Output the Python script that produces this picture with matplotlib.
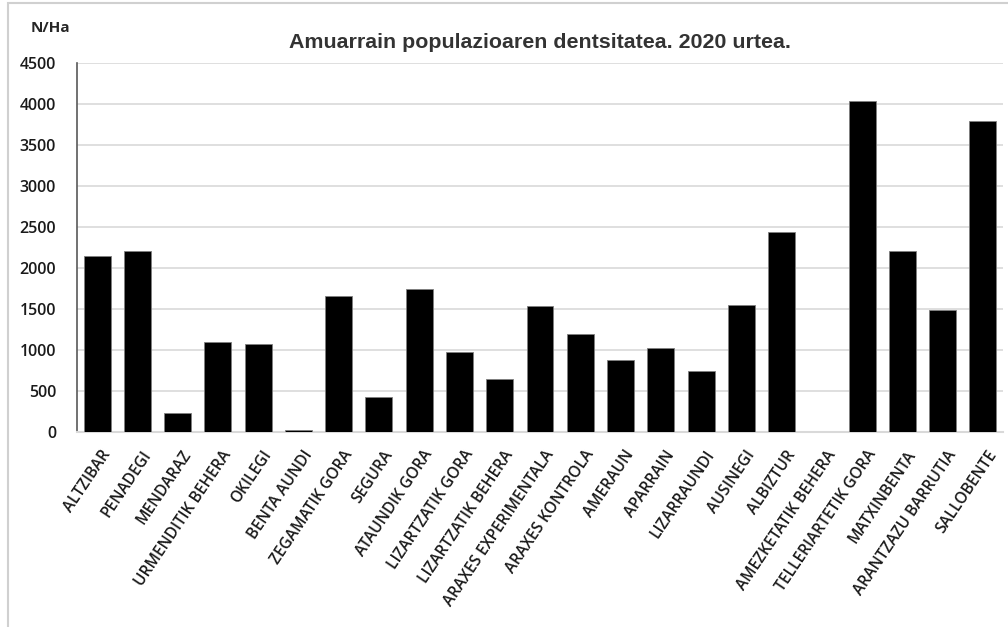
import matplotlib
matplotlib.use("Agg")
from matplotlib import pyplot as plt
from matplotlib.patches import Rectangle
import matplotlib.transforms as mtransforms
import numpy as np

stations = ['ALTZIBAR', 'PENADEGI', 'MENDARAZ', 'URMENDITIK BEHERA', 'OKILEGI',
            'BENTA AUNDI', 'ZEGAMATIK GORA', 'SEGURA', 'ATAUNDIK GORA',
            'LIZARTZATIK GORA', 'LIZARTZATIK BEHERA', 'ARAXES EXPERIMENTALA',
            'ARAXES KONTROLA', 'AMERAUN', 'APARRAIN', 'LIZARRAUNDI', 'AUSINEGI',
            'ALBIZTUR', 'AMEZKETATIK BEHERA', 'TELLERIARTETIK GORA',
            'MATXINBENTA', 'ARANTZAZU BARRUTIA', 'SALLOBENTE']
density = [2145, 2205, 230, 1100, 1070, 20, 1660, 425, 1740, 975, 645, 1535,
           1190, 880, 1020, 740, 1550, 2440, 0, 4035, 2205, 1490, 3795]
yticks = [0, 500, 1000, 1500, 2000, 2500, 3000, 3500, 4000, 4500]

plt.rcParams['font.family'] = ['Open Sans', 'DejaVu Sans']

W, H = 1008, 627
fig = plt.figure(figsize=(W / 100, H / 100), dpi=100)
ax = fig.add_axes([77 / W, 1 - 432 / H, (1003 - 77) / W, (432 - 63) / H])

x = np.arange(len(stations))
ax.bar(x, density, width=0.67, color='black', edgecolor='#7f7f7f', linewidth=0.6, zorder=3)

ax.set_xlim(-0.5, len(stations) - 0.5)
ax.set_ylim(0, 4500)
ax.set_yticks(yticks)
ax.set_yticklabels([str(v) for v in yticks], fontsize=11.5, fontweight='semibold', color='#1a1a1a')
ax.set_xticks(x)
ax.set_xticklabels(stations, rotation=56, ha='right', rotation_mode='anchor',
                   fontsize=11.2, fontweight='semibold', color='#1a1a1a')
ax.tick_params(axis='both', length=0)
ax.tick_params(axis='y', pad=15)
ax.tick_params(axis='x', pad=11)
shift = mtransforms.ScaledTranslation(4 / 100, 0, fig.dpi_scale_trans)
for lab in ax.get_xticklabels():
    lab.set_transform(lab.get_transform() + shift)

ax.yaxis.grid(True, color='#d9d9d9', linewidth=1.2, zorder=0)
ax.set_axisbelow(True)
for s in ['top', 'right']:
    ax.spines[s].set_visible(False)
ax.spines['left'].set_color('#595959')
ax.spines['left'].set_linewidth(1.2)
ax.spines['bottom'].set_color('#d9d9d9')
ax.spines['bottom'].set_linewidth(1.5)

fig.text(540 / W, 1 - 42 / H, 'Amuarrain populazioaren dentsitatea. 2020 urtea.',
         ha='center', va='center', fontsize=15.4, fontweight='bold',
         family=['Liberation Sans', 'DejaVu Sans'], color='#333333')
fig.text(50 / W, 1 - 28 / H, 'N/Ha', ha='center', va='center', fontsize=11,
         fontweight='bold', color='#262626')

fig.patches.append(Rectangle((8 / W, -0.05), 1.1, 1 - 3 / H + 0.05, transform=fig.transFigure,
                             fill=False, edgecolor='#d0d0d0', linewidth=1.5))

fig.savefig('out.png', dpi=100)
